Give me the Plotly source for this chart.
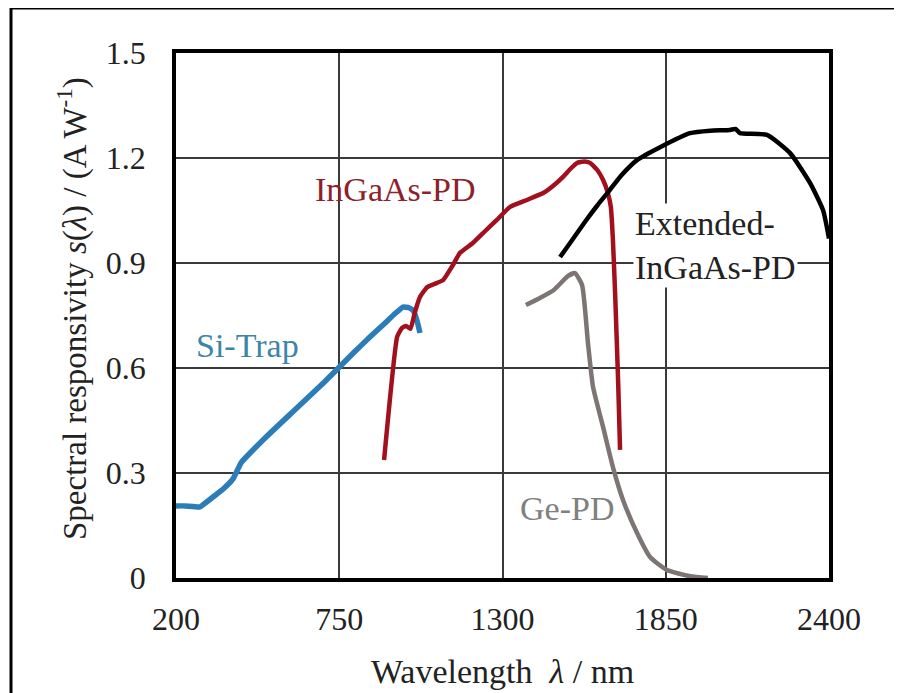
import plotly.graph_objects as go

# ---- data ----
si_x = [200, 230, 281, 300, 330, 360, 392, 420, 500, 600, 700, 800, 854, 900, 940, 965, 985, 1000, 1012, 1022]
si_y = [0.206, 0.206, 0.203, 0.215, 0.235, 0.255, 0.283, 0.33, 0.40, 0.48, 0.56, 0.645, 0.689, 0.725, 0.757, 0.774, 0.772, 0.763, 0.735, 0.70]

ingaas_x = [901, 945, 961, 975, 990, 1005, 1022, 1046, 1070, 1100, 1130, 1157, 1200, 1240, 1281, 1325, 1382, 1437, 1470, 1504, 1530, 1551, 1575, 1595, 1620, 1639, 1655, 1665, 1672, 1680, 1690, 1696]
ingaas_y = [0.337, 0.689, 0.714, 0.72, 0.712, 0.76, 0.803, 0.831, 0.84, 0.851, 0.89, 0.929, 0.957, 0.99, 1.023, 1.06, 1.08, 1.10, 1.12, 1.146, 1.17, 1.186, 1.19, 1.186, 1.165, 1.137, 1.10, 1.06, 0.966, 0.80, 0.55, 0.366]

ge_x = [1379, 1426, 1473, 1521, 1544, 1568, 1588, 1605, 1639, 1672, 1706, 1753, 1797, 1854, 1932, 1992]
ge_y = [0.78, 0.80, 0.823, 0.863, 0.871, 0.837, 0.671, 0.546, 0.431, 0.317, 0.223, 0.129, 0.06, 0.023, 0.005, 0.0]

ext_x = [1494, 1530, 1580, 1620, 1662, 1700, 1753, 1831, 1932, 2000, 2066, 2085, 2100, 2191, 2269, 2336, 2380, 2400]
ext_y = [0.917, 0.96, 1.02, 1.065, 1.109, 1.15, 1.194, 1.231, 1.271, 1.278, 1.28, 1.283, 1.271, 1.266, 1.214, 1.129, 1.051, 0.97]

x_ticks = [200, 750, 1300, 1850, 2400]
y_ticks = [0, 0.3, 0.6, 0.9, 1.2, 1.5]
y_tick_text = ["0", "0.3", "0.6", "0.9", "1.2", "1.5"]

labels = ["Si-Trap", "InGaAs-PD", "Extended-<br>InGaAs-PD", "Ge-PD"]
label_x = [440, 938, 1740, 1517]
label_y = [0.665, 1.109, 0.951, 0.20]

x_title = "Wavelength  <i>λ</i> / nm"
y_title = "Spectral responsivity <i>s</i>(<i>λ</i>) / (A W<sup>-1</sup>)"

# ---- styles ----
BLUE = "#2a7db8"
RED = "#a3101d"
GREY = "#7d7474"
FONT = "Liberation Serif"
TXT = "#222222"

fig = go.Figure()
fig.add_trace(go.Scatter(x=si_x, y=si_y, mode="lines", line=dict(color=BLUE, width=5.5, shape="spline", smoothing=0.4), showlegend=False))
fig.add_trace(go.Scatter(x=ingaas_x, y=ingaas_y, mode="lines", line=dict(color=RED, width=4.5, shape="spline", smoothing=0.4), showlegend=False))
fig.add_trace(go.Scatter(x=ge_x, y=ge_y, mode="lines", line=dict(color=GREY, width=4.5, shape="spline", smoothing=0.5), showlegend=False))
fig.add_trace(go.Scatter(x=ext_x, y=ext_y, mode="lines", line=dict(color="black", width=4.5, shape="spline", smoothing=0.5), showlegend=False))

label_colors = ["#3b86a8", "#8e1f2c", TXT, "#808080"]
label_anchor = ["center", "center", "left", "center"]
for t, lx, ly, c, a in zip(labels, label_x, label_y, label_colors, label_anchor):
    fig.add_annotation(x=lx, y=ly, text=t, showarrow=False, xanchor=a, align="left",
                       font=dict(family=FONT, size=34, color=c),
                       bgcolor="white" if a == "left" else "rgba(0,0,0,0)")

# page offset (body margin) compensation
OFF = 8
W, H = 902, 693
L, T = 176 - OFF, 53 - OFF
R = W - (829 - OFF)
B = H - (578 - OFF)
pw, ph = W - L - R, H - T - B
px = lambda v: (v - OFF - L) / pw          # page x pixel -> paper
py = lambda v: (H - B - (v - OFF)) / ph    # page y pixel -> paper

fig.add_shape(type="rect", xref="paper", yref="paper",
              x0=px(11), x1=px(925), y0=py(730), y1=py(8),
              line=dict(color="black", width=3), layer="below")

# axis titles
fig.add_annotation(xref="paper", yref="paper", x=px(503), y=py(671), text=x_title,
                   showarrow=False, xanchor="center", yanchor="middle",
                   font=dict(family=FONT, size=34, color=TXT))
fig.add_annotation(xref="paper", yref="paper", x=px(72), y=py(309), text=y_title,
                   showarrow=False, xanchor="center", yanchor="middle", textangle=-90,
                   font=dict(family=FONT, size=33, color=TXT))

fig.update_layout(
    width=W, height=H,
    margin=dict(l=L, r=R, t=T, b=B, autoexpand=False),
    paper_bgcolor="white", plot_bgcolor="white",
    font=dict(family=FONT, color=TXT),
)
fig.update_xaxes(
    range=[200, 2400], tickvals=x_ticks, ticktext=[str(v) for v in x_ticks],
    tickfont=dict(size=32, family=FONT, color=TXT), ticklabelstandoff=10,
    showgrid=True, gridcolor="#3a3a3a", gridwidth=1.5,
    showline=True, linecolor="black", linewidth=3.5, mirror=True,
    zeroline=False, ticks="", automargin=False,
)
fig.update_yaxes(
    range=[0, 1.5], tickvals=y_ticks, ticktext=y_tick_text,
    tickfont=dict(size=32, family=FONT, color=TXT), ticklabelstandoff=20,
    showgrid=True, gridcolor="#3a3a3a", gridwidth=1.5,
    showline=True, linecolor="black", linewidth=3.5, mirror=True,
    zeroline=False, ticks="", automargin=False,
)

fig.write_html("out.html")
